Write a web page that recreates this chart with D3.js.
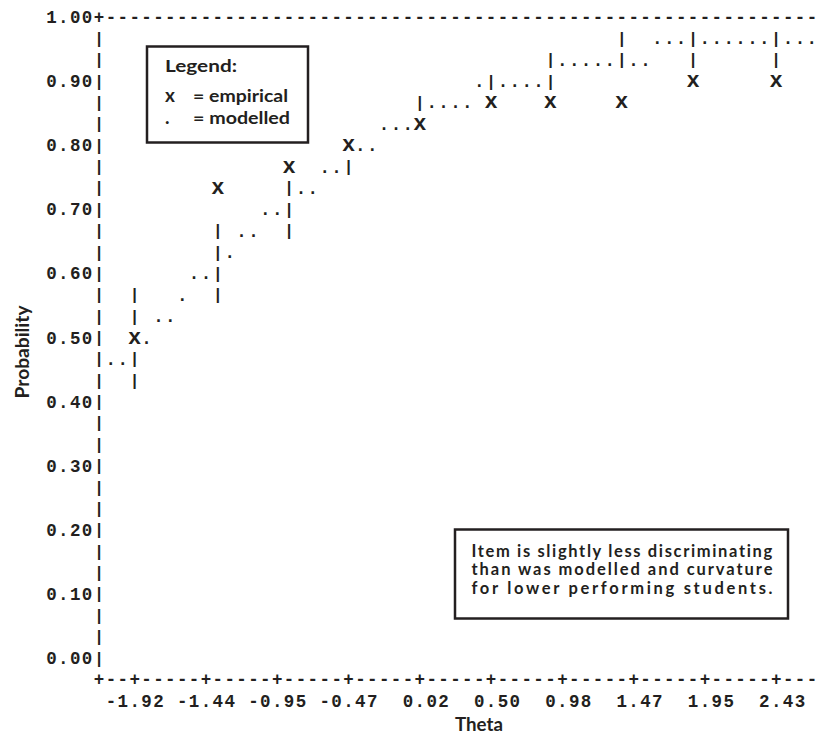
<!DOCTYPE html>
<html><head><meta charset="utf-8">
<script src="https://cdn.jsdelivr.net/npm/d3@7"></script>
<style>body{margin:0;background:#fff}</style>
</head><body>
<svg id="chart" width="820" height="734"></svg>
<script>
// ---- data ----
const xTickValues = [-1.92, -1.44, -0.95, -0.47, 0.02, 0.50, 0.98, 1.47, 1.95, 2.43];
const yTickValues = [0.00, 0.10, 0.20, 0.30, 0.40, 0.50, 0.60, 0.70, 0.80, 0.90, 1.00];
const empiricalTheta = [-1.92, -1.36, -0.87, -0.47, 0.02, 0.50, 0.90, 1.39, 1.87, 2.43];
const empiricalProb  = [0.50, 0.74, 0.77, 0.80, 0.83, 0.87, 0.87, 0.87, 0.90, 0.90];
const ciLow  = [0.43, 0.57, 0.67, 0.77, 0.83, 0.89, 0.89, 0.93, 0.93, 0.93];
const ciHigh = [0.57, 0.67, 0.73, 0.78, 0.87, 0.90, 0.93, 0.97, 0.97, 0.97];
const modelTheta = [-2.08, -2.00, -1.84, -1.76, -1.68, -1.60, -1.52, -1.44, -1.28, -1.20, -1.11, -1.03, -0.95,
  -0.79, -0.71, -0.63, -0.55, -0.39, -0.31, -0.23, -0.15, -0.07, 0.09, 0.17, 0.26, 0.34, 0.42,
  0.58, 0.66, 0.74, 0.82, 0.98, 1.06, 1.14, 1.22, 1.30, 1.46, 1.54, 1.62, 1.71, 1.79,
  1.95, 2.03, 2.11, 2.19, 2.27, 2.35, 2.51, 2.59, 2.67];
const modelProb = [0.46, 0.47, 0.50, 0.52, 0.54, 0.56, 0.59, 0.60, 0.63, 0.66, 0.67, 0.69, 0.70,
  0.73, 0.74, 0.76, 0.77, 0.79, 0.80, 0.82, 0.83, 0.84, 0.86, 0.86, 0.87, 0.88, 0.89,
  0.90, 0.90, 0.91, 0.91, 0.92, 0.93, 0.93, 0.93, 0.94, 0.945, 0.948, 0.952, 0.955, 0.957,
  0.961, 0.963, 0.965, 0.966, 0.968, 0.969, 0.972, 0.973, 0.974];
const legendTitle = "Legend:";
const legendItems = [["x", "= empirical"], [".", "= modelled"]];
const noteLines = ["Item is slightly less discriminating", "than was modelled and curvature", "for lower performing students."];
const xTitle = "Theta", yTitle = "Probability";

// ---- layout ----
const INK = "#231f20";
const MONO = "'Liberation Mono','DejaVu Sans Mono',monospace";
const SANS = "Lato,'Noto Sans',sans-serif";
const CW = 11.88, FS = 17.5;
const svg = d3.select("#chart");
const colPx = d3.scaleLinear().domain([0, 60]).range([99, 99 + 60 * CW]);
const rowPx = d3.scaleLinear().domain([0, 30]).range([17, 658]);
const thetaCol = d3.scaleLinear().domain([-2.1617, 2.6717]).range([0, 60]);
const probRow = d3.scaleLinear().domain([1, 0]).range([0, 30]);
const col = t => Math.round(thetaCol(t));
const row = p => Math.round(probRow(p));

// character grid of the plot
const cells = new Map();
const put = (c, r, ch, type) => cells.set(c + "," + r, {c, r, ch, type});
modelTheta.forEach((t, i) => put(col(t), row(modelProb[i]), ".", "dot"));
empiricalTheta.forEach((t, i) => {
  const c = col(t);
  for (let r = row(ciHigh[i]); r <= row(ciLow[i]); r++) put(c, r, "|", "bar");
});
empiricalTheta.forEach((t, i) => put(col(t), row(empiricalProb[i]), "x", "emp"));
for (let r = 1; r <= 30; r++) put(0, r, "|", "bar");

const grid = Array.from(cells.values());
const g = svg.append("g");
g.selectAll("text.dot").data(grid.filter(d => d.type === "dot")).join("text")
  .attr("class", "dot").attr("x", d => colPx(d.c)).attr("y", d => rowPx(d.r) + 6)
  .attr("text-anchor", "middle").style("font", `bold ${FS}px ${MONO}`).attr("fill", INK).text(d => d.ch);
g.selectAll("text.bar").data(grid.filter(d => d.type === "bar")).join("text")
  .attr("class", "bar").attr("x", d => colPx(d.c)).attr("y", d => rowPx(d.r) + 5.5)
  .attr("text-anchor", "middle").style("font", `bold 16px ${MONO}`).attr("fill", INK).text(d => d.ch);
g.selectAll("text.emp").data(grid.filter(d => d.type === "emp")).join("text")
  .attr("class", "emp").attr("x", d => colPx(d.c)).attr("y", d => rowPx(d.r) + 6)
  .attr("text-anchor", "middle").style("font", `bold 22px ${MONO}`).attr("fill", INK).text(d => d.ch);

// monospace string placed on the grid
function gridString(str, c0, r) {
  g.append("text").attr("x", colPx(c0) - 0.3 * FS).attr("y", rowPx(r) + 6)
    .style("font", `bold ${FS}px ${MONO}`).style("letter-spacing", (CW - 0.6 * FS) + "px")
    .attr("fill", INK).attr("xml:space", "preserve").text(str);
}
// top frame
gridString("+" + "-".repeat(60), 0, 0);
// bottom axis
const tickCols = new Set(xTickValues.map(col));
let bottom = "";
for (let c = 0; c <= 60; c++) bottom += (c === 0 || tickCols.has(c)) ? "+" : "-";
gridString(bottom, 0, 31);
// y tick labels
yTickValues.forEach(v => { const s = v.toFixed(2); gridString(s, -s.length, row(v)); });
// x tick labels
xTickValues.forEach(v => { const s = v.toFixed(2); gridString(s, col(v) + 2 - s.length + 1, 32); });

// axis titles
svg.append("text").attr("x", 455).attr("y", 731).attr("textLength", 48).attr("lengthAdjust", "spacingAndGlyphs")
  .style("font", `bold 18px ${SANS}`).attr("fill", INK).text(xTitle);
svg.append("text").attr("transform", "translate(28.5,352) rotate(-90)").attr("text-anchor", "middle")
  .attr("textLength", 93).attr("lengthAdjust", "spacingAndGlyphs")
  .style("font", `bold 18px ${SANS}`).attr("fill", INK).text(yTitle);

// legend box
const lg = svg.append("g");
lg.append("rect").attr("x", 147).attr("y", 46.5).attr("width", 161).attr("height", 96)
  .attr("fill", "#fff").attr("stroke", INK).attr("stroke-width", 2.5);
lg.append("text").attr("x", 165).attr("y", 72).attr("textLength", 72).attr("lengthAdjust", "spacingAndGlyphs")
  .style("font", `bold 17px ${SANS}`).attr("fill", INK).text(legendTitle);
legendItems.forEach((it, i) => {
  const y = 102 + i * 21.5;
  lg.append("text").attr("x", 165).attr("y", y).style("font", `bold 19px ${SANS}`).attr("fill", INK).text(it[0]);
  lg.append("text").attr("x", 193).attr("y", y).attr("textLength", i ? 97 : 95).attr("lengthAdjust", "spacingAndGlyphs")
    .style("font", `bold 17px ${SANS}`).attr("fill", INK).text(it[1]);
});

// annotation box: one text block, each line justified to the same width
const ng = svg.append("g");
ng.append("rect").attr("x", 455).attr("y", 529.5).attr("width", 333).attr("height", 89)
  .attr("fill", "#fff").attr("stroke", INK).attr("stroke-width", 2.5);
const note = ng.append("text").attr("x", 471.5).attr("y", 557)
  .style("font", `bold 16.5px ${SANS}`).attr("fill", INK);
noteLines.forEach((s, i) => {
  const ts = note.append("tspan").attr("x", 471.5).attr("y", 557 + i * 18.3).text(s);
  const w = ts.node().getComputedTextLength();
  ts.style("letter-spacing", ((301 - w) / (s.length - 1)) + "px");
});
</script>
</body></html>
